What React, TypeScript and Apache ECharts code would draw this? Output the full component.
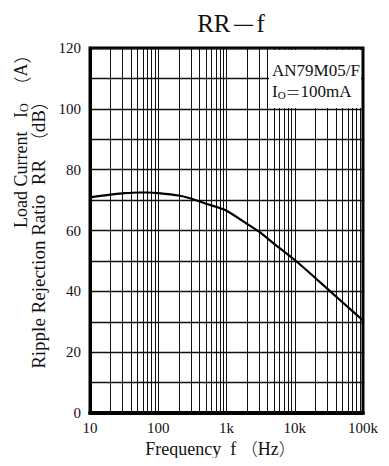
import React, { useEffect, useRef } from "react";
import * as echarts from "echarts";

const freqs = [10, 20, 30, 50, 70, 100, 200, 300, 500, 700, 1000, 2000, 3000, 5000, 10000, 20000, 50000, 100000];
const rrValues = [70.9, 71.8, 72.2, 72.5, 72.5, 72.3, 71.5, 70.5, 68.8, 67.8, 66.5, 62.2, 59.6, 55.6, 50.3, 44.4, 36.4, 30.4];
const gridFreqs = [
  20, 30, 40, 50, 60, 70, 80, 90, 100,
  200, 300, 400, 500, 600, 700, 800, 900, 1000,
  2000, 3000, 4000, 5000, 6000, 7000, 8000, 9000, 10000,
  20000, 30000, 40000, 50000, 60000, 70000, 80000, 90000,
];
const xTickLabels: Record<number, string> = { 10: "10", 100: "100", 1000: "1k", 10000: "10k", 100000: "100k" };

const serif = "'Liberation Serif', 'Times New Roman', serif";
const cjk = "'Noto Sans CJK JP', 'Liberation Serif', serif";

export default function App() {
  const ref = useRef<HTMLDivElement>(null);
  useEffect(() => {
    if (!ref.current) return;
    const chart = echarts.init(ref.current, undefined, { renderer: "svg" });
    chart.setOption({
      animation: false,
      backgroundColor: "#ffffff",
      title: {
        text: "RR{d|－}f",
        left: 226,
        top: 5,
        textAlign: "center",
        textStyle: {
          fontFamily: serif,
          fontSize: 25,
          fontWeight: "normal",
          color: "#111",
          rich: { d: { fontFamily: cjk, fontSize: 26, fontWeight: 200, color: "#111" } },
        },
      },
      grid: { left: 90, right: 26, top: 48, bottom: 53, show: true, borderColor: "#000", borderWidth: 3, backgroundColor: "transparent" },
      xAxis: {
        type: "log",
        logBase: 10,
        min: 10,
        max: 100000,
        name: "Frequency  f {p|（}Hz{p|）}",
        nameLocation: "middle",
        nameGap: 26,
        nameTextStyle: {
          fontFamily: serif,
          fontSize: 18,
          color: "#111",
          padding: [0, 12, 0, 0],
          rich: { p: { fontFamily: cjk, fontSize: 17, fontWeight: 300, color: "#111" } },
        },
        axisLine: { show: true, lineStyle: { color: "#000", width: 4 } },
        axisTick: { show: false },
        splitLine: { show: false },
        axisLabel: {
          fontFamily: serif,
          fontSize: 15,
          color: "#111",
          margin: 7,
          formatter: (v: number) => xTickLabels[Math.round(v)] ?? "",
        },
      },
      yAxis: {
        type: "value",
        min: 0,
        max: 120,
        interval: 10,
        name: "Ripple Rejection Ratio  RR  {p|（}dB{p|）}",
        nameLocation: "middle",
        nameGap: 42,
        nameRotate: 90,
        nameTextStyle: {
          fontFamily: serif,
          fontSize: 19,
          color: "#111",
          rich: { p: { fontFamily: cjk, fontSize: 18, fontWeight: 300, color: "#111" } },
        },
        axisLine: { show: true, lineStyle: { color: "#000", width: 3 } },
        axisTick: { show: false },
        splitLine: { show: true, lineStyle: { color: "#111", width: 1.4 } },
        axisLabel: {
          fontFamily: serif,
          fontSize: 15,
          color: "#111",
          margin: 9,
          formatter: (v: number) => (v % 20 === 0 ? String(v) : ""),
        },
      },
      graphic: [
        { type: "rect", z: 10, shape: { x: 269, y: 50, width: 92, height: 58 }, style: { fill: "#fff" } },
        {
          type: "text",
          z: 11,
          x: 272,
          y: 62,
          style: { text: "AN79M05/F", fontFamily: serif, fontSize: 17, fill: "#111" },
        },
        {
          type: "text",
          z: 11,
          x: 272,
          y: 82,
          style: {
            text: "I{s|O}{e|＝}100mA",
            fontFamily: serif,
            fontSize: 17,
            fill: "#111",
            rich: {
              s: { fontFamily: serif, fontSize: 11, fill: "#111", padding: [7, 0, 0, 0] },
              e: { fontFamily: cjk, fontSize: 15, fontWeight: 300, fill: "#111" },
            },
          },
        },
        {
          type: "text",
          z: 11,
          x: 11,
          y: 228,
          rotation: Math.PI / 2,
          style: {
            text: "Load Current   I{s|O}  {p|（}A{p|）}",
            fontFamily: serif,
            fontSize: 18,
            fill: "#111",
            rich: {
              s: { fontFamily: serif, fontSize: 12, fill: "#111", padding: [7, 0, 0, 0] },
              p: { fontFamily: cjk, fontSize: 18, fontWeight: 300, fill: "#111" },
            },
          },
        },
      ],
      series: [
        {
          type: "line",
          data: freqs.map((f, i) => [f, rrValues[i]]),
          smooth: 0.3,
          showSymbol: false,
          lineStyle: { color: "#000", width: 2.2 },
          z: 5,
          markLine: {
            silent: true,
            symbol: "none",
            label: { show: false },
            lineStyle: { color: "#111", width: 1, type: "solid" },
            data: gridFreqs.map((f) => ({ xAxis: f })),
          },
        },
      ],
    });
    return () => chart.dispose();
  }, []);
  return <div ref={ref} style={{ width: 389, height: 466, margin: -8 }} />;
}
